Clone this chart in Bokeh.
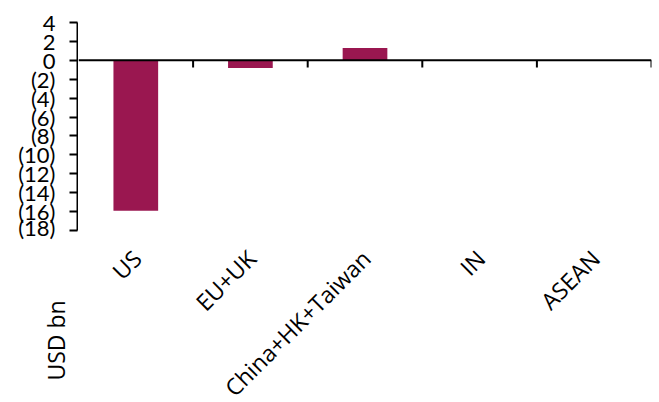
import math
from bokeh.plotting import figure
from bokeh.layouts import row, column
from bokeh.core.properties import value
from bokeh.models import (Range1d, FixedTicker, NumeralTickFormatter, Span, Label,
                          LabelSet, ColumnDataSource)
from bokeh.embed import file_html
from bokeh.resources import INLINE

categories = ["US", "EU+UK", "China+HK+Taiwan", "IN", "ASEAN"]
values = [-15.9, -0.8, 1.3, 0.0, 0.0]
y_ticks = list(range(-18, 5, 2))
y_label = "USD bn"

TICK_FONT = "Lato"
TEXT_FONT = "Open Sans"
BAR_COLOR = "#9A1750"

Y_MIN, Y_MAX = -18, 4
TOP, FRAME_H = 22, 208              # pixel layout of the value axis
PX_PER_UNIT = FRAME_H / (Y_MAX - Y_MIN)
MAIN_H = 402
# the main panel's frame runs to the bottom of the page so the rotated
# category labels can sit under the value axis
y_bottom_ext = Y_MIN - (MAIN_H - TOP - FRAME_H) / PX_PER_UNIT


def clean(fig):
    fig.outline_line_color = None
    fig.background_fill_color = "white"
    fig.border_fill_color = "white"
    fig.grid.visible = False
    try:
        fig.frame_align = False
    except Exception:
        pass
    return fig


# ---- value axis (left strip) ----
fig_ticks = clean(figure(width=78, height=240, output_backend="svg", toolbar_location=None,
                         x_range=Range1d(0, 1), y_range=Range1d(Y_MIN, Y_MAX),
                         x_axis_location=None,
                         min_border_left=77, min_border_right=0,
                         min_border_top=TOP, min_border_bottom=240 - TOP - FRAME_H))
ya = fig_ticks.yaxis[0]
ya.ticker = FixedTicker(ticks=y_ticks)
ya.formatter = NumeralTickFormatter(format="(0)")
ya.axis_line_width = 2
ya.axis_line_color = "black"
ya.major_tick_line_width = 2
ya.major_tick_line_color = "black"
ya.major_tick_in = 0
ya.major_tick_out = 8
ya.minor_tick_line_color = None
ya.major_label_standoff = 14
ya.major_label_text_font = TICK_FONT
ya.major_label_text_font_size = "22px"
ya.major_label_text_color = "black"

# ---- unit label (left, below the value axis) ----
fig_unit = clean(figure(width=78, height=162, output_backend="svg", toolbar_location=None,
                        x_range=Range1d(0, 78), y_range=Range1d(0, 162),
                        x_axis_location=None, y_axis_location=None,
                        min_border_left=0, min_border_right=0,
                        min_border_top=0, min_border_bottom=0))
fig_unit.add_layout(Label(x=55, y=62, text=y_label, angle=math.pi / 2,
                          text_align="center", text_baseline="middle",
                          text_font=TEXT_FONT, text_font_size="23px", text_color="black"))

# ---- main bar panel ----
p = clean(figure(width=581, height=MAIN_H, output_backend="svg", toolbar_location=None,
                 x_range=Range1d(-0.5, len(categories) - 0.5),
                 y_range=Range1d(y_bottom_ext, Y_MAX),
                 x_axis_location=None, y_axis_location=None,
                 min_border_left=0, min_border_right=8, min_border_top=TOP,
                 min_border_bottom=0))

xs = list(range(len(categories)))
p.vbar(x=xs, top=values, width=0.39, fill_color=BAR_COLOR, line_color=None)

# category axis line at zero, with separator ticks between categories
p.add_layout(Span(location=0, dimension="width", line_color="black", line_width=2))
bounds = [i + 0.5 for i in xs]
p.segment(x0=bounds, y0=[0] * len(bounds), x1=bounds, y1=[-0.75] * len(bounds),
          line_color="black", line_width=2)

# rotated category labels under the value axis
label_y = Y_MIN - 2.5
cat_src = ColumnDataSource(dict(x=[i + 0.01 for i in xs], y=[label_y] * len(xs),
                                text=categories))
p.add_layout(LabelSet(x="x", y="y", text="text", source=cat_src, angle=math.pi / 4,
                      text_align="right", text_baseline="middle",
                      text_font=value(TEXT_FONT), text_font_size=value("23px"),
                      text_color="black"))

layout = row(column(fig_ticks, fig_unit, spacing=0), p, spacing=0)
open("out.html", "w").write(file_html(layout, INLINE))
